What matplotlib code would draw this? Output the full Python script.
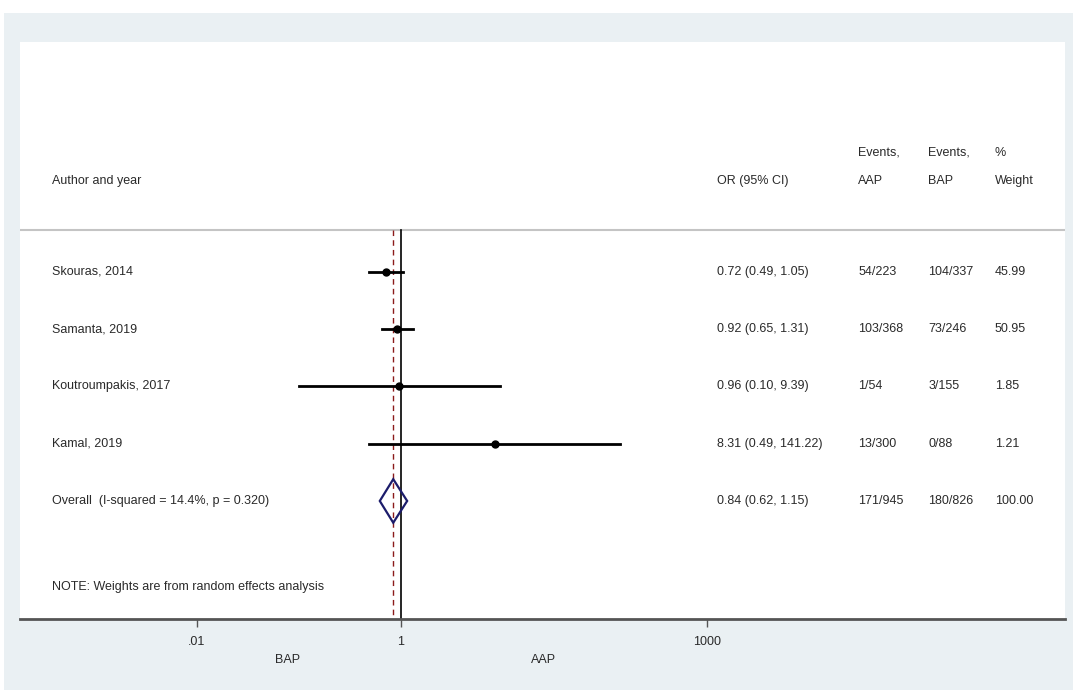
import matplotlib.pyplot as plt
import matplotlib.transforms as mtransforms
from matplotlib.patches import Rectangle, Polygon

plt.rcParams['font.family'] = ['Liberation Sans', 'DejaVu Sans']

# study-level results
studies = ["Skouras, 2014", "Samanta, 2019", "Koutroumpakis, 2017", "Kamal, 2019"]
odds = [0.72, 0.92, 0.96, 8.31]
ci_low = [0.49, 0.65, 0.10, 0.49]
ci_high = [1.05, 1.31, 9.39, 141.22]
events_aap = ["54/223", "103/368", "1/54", "13/300"]
events_bap = ["104/337", "73/246", "3/155", "0/88"]
weights = ["45.99", "50.95", "1.85", "1.21"]

# pooled estimate
overall_label = "Overall  (I-squared = 14.4%, p = 0.320)"
overall_or = 0.84
overall_low = 0.62
overall_high = 1.15
overall_aap = "171/945"
overall_bap = "180/826"
overall_weight = "100.00"

xticks = [0.01, 1, 1000]
xtick_labels = [".01", "1", "1000"]

W, H = 1077, 692
fig = plt.figure(figsize=(W / 100, H / 100), dpi=100)
fig.patch.set_facecolor("white")
fig.patches.append(Rectangle((4 / W, 2 / H), 1069 / W, 677 / H,
                             transform=fig.transFigure, facecolor="#eaf0f3",
                             edgecolor="none", zorder=-10))

ax = fig.add_axes([20 / W, 73 / H, 1045 / W, 577 / H])
ax.set_zorder(5)
ax.set_facecolor("white")
ax.set_xscale("log")
ax.set_xlim(10 ** -3.735, 10 ** 6.51)
ax.set_ylim(6.06, -4.01)

fs = 9
tc = "#2a2a2a"

for s in ["top", "right", "left"]:
    ax.spines[s].set_visible(False)
ax.spines["bottom"].set_color("#555555")
ax.spines["bottom"].set_linewidth(2)
ax.set_yticks([])
ax.set_xticks(xticks)
ax.set_xticklabels(xtick_labels, fontsize=fs)
ax.xaxis.set_minor_locator(plt.NullLocator())
ax.tick_params(axis="x", direction="out", length=6, width=1, color="#555555",
               pad=6.5, labelcolor=tc)

col_label = 0.031
col_or = 0.667
col_aap = 0.802
col_bap = 0.869
col_wt = 0.933
tx = ax.get_yaxis_transform()


def cell(x, y, s):
    ax.text(x, y, s, transform=tx, fontsize=fs, color=tc, va="center")


# header
cell(col_label, -1.59, "Author and year")
cell(col_or, -1.59, "OR (95% CI)")
cell(col_aap, -2.08, "Events,")
cell(col_aap, -1.59, "AAP")
cell(col_bap, -2.08, "Events,")
cell(col_bap, -1.59, "BAP")
cell(col_wt, -2.08, "%")
cell(col_wt, -1.59, "Weight")
ax.axhline(-0.73, color="#c4c4c4", lw=1.5)

# reference lines
ax.plot([1, 1], [-0.73, 6.06], color="black", lw=1.2, zorder=2)
ax.plot([overall_or, overall_or], [-0.73, 6.06], color="#8b1a1a", lw=1,
        ls=(0, (4, 3)), zorder=2)

# studies
for i, name in enumerate(studies):
    ax.plot([ci_low[i], ci_high[i]], [i, i], color="black", lw=2, zorder=3)
    ax.plot(odds[i], i, "o", color="black", ms=5, zorder=4)
    cell(col_label, i, name)
    cell(col_or, i, "%.2f (%.2f, %.2f)" % (odds[i], ci_low[i], ci_high[i]))
    cell(col_aap, i, events_aap[i])
    cell(col_bap, i, events_bap[i])
    cell(col_wt, i, weights[i])

# overall diamond
yo = len(studies)
diamond = Polygon([[overall_low, yo], [overall_or, yo - 0.38],
                   [overall_high, yo], [overall_or, yo + 0.38]],
                  closed=True, facecolor="none", edgecolor="#1c1c6b", lw=1.6, zorder=5)
ax.add_patch(diamond)
cell(col_label, yo, overall_label)
cell(col_or, yo, "%.2f (%.2f, %.2f)" % (overall_or, overall_low, overall_high))
cell(col_aap, yo, overall_aap)
cell(col_bap, yo, overall_bap)
cell(col_wt, yo, overall_weight)

cell(col_label, 5.51, "NOTE: Weights are from random effects analysis")

# direction labels under the axis
lt = mtransforms.blended_transform_factory(ax.transData, ax.transAxes)
ax.text(0.078, -0.071, "BAP", transform=lt, fontsize=fs, color=tc, ha="center", va="center")
ax.text(25.2, -0.071, "AAP", transform=lt, fontsize=fs, color=tc, ha="center", va="center")

fig.savefig("out.png", dpi=100)
